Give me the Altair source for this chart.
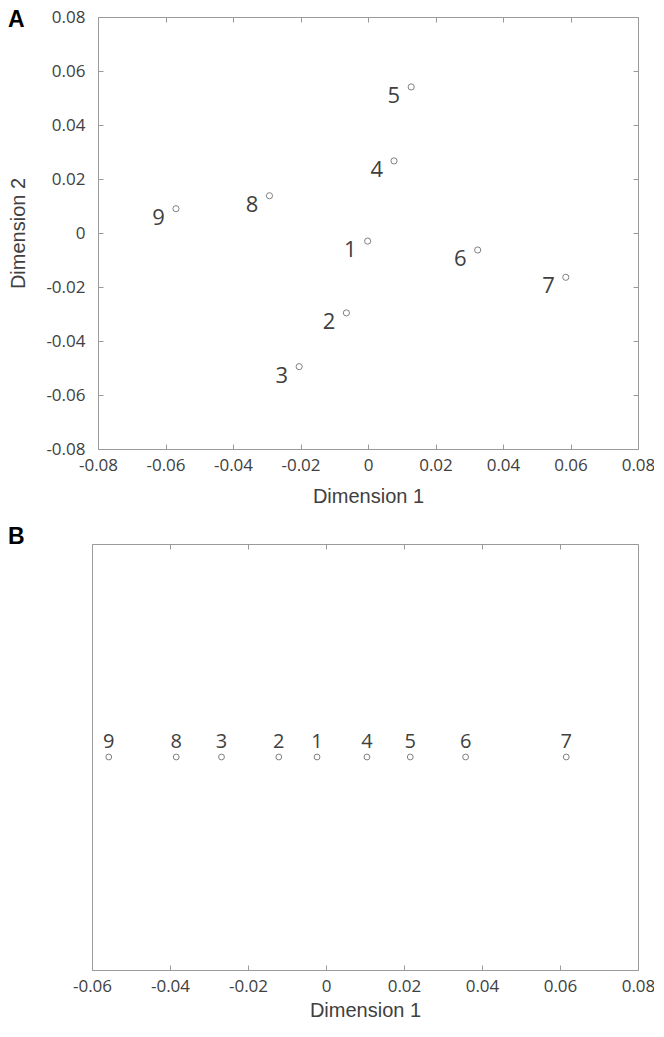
import altair as alt
import pandas as pd

# ---------------- data ----------------
ids = ["1", "2", "3", "4", "5", "6", "7", "8", "9"]

# Panel A: two-dimensional solution
dim1_a = [-0.0001, -0.0064, -0.0204, 0.0077, 0.0128, 0.0325, 0.0586, -0.0292, -0.0569]
dim2_a = [-0.0030, -0.0296, -0.0495, 0.0267, 0.0541, -0.0063, -0.0164, 0.0138, 0.0090]

# Panel B: one-dimensional solution (all points on the zero line)
dim1_b = [-0.0023, -0.0121, -0.0268, 0.0105, 0.0216, 0.0358, 0.0616, -0.0384, -0.0557]
dim2_b = [0, 0, 0, 0, 0, 0, 0, 0, 0]

ticks_a = [-0.08, -0.06, -0.04, -0.02, 0.0, 0.02, 0.04, 0.06, 0.08]
ticks_b = [-0.06, -0.04, -0.02, 0.0, 0.02, 0.04, 0.06, 0.08]
domain_a = [-0.08, 0.08]
domain_b = [-0.06, 0.08]
domain_b_y = [-1, 1]

panel_a = ["A"]
panel_b = ["B"]

df_a = pd.DataFrame({"id": ids, "d1": dim1_a, "d2": dim2_a})
df_b = pd.DataFrame({"id": ids, "d1": dim1_b, "d2": dim2_b})

# ---------------- styles ----------------
TXT = "#404040"
GRAY = "#9a9a9a"
PT = "#808080"
IN_TICK = {"expr": "-5"}          # ticks pointing into the plot
LABEL_EXPR = ("datum.value < -0.000001 ? '-' + format(-datum.value, '.2~f') "
              ": format(abs(datum.value), '.2~f')")

COMMON = dict(domain=True, domainColor=GRAY, domainWidth=1, grid=False,
              tickColor=GRAY, tickWidth=1, minExtent=0)

W = 546          # width of panel B's box (panel A's box starts 6 px further right)


def bottom_axis(values, title_pad):
    return alt.Axis(orient="bottom", values=values, tickSize=IN_TICK,
                    labelPadding=13, labelFont="Open Sans", labelFontSize=17,
                    labelColor=TXT, labelFlush=False, labelOverlap=False,
                    labelExpr=LABEL_EXPR, title="Dimension 1",
                    titleFont="Liberation Sans", titleFontSize=20,
                    titleFontWeight="normal", titleColor=TXT,
                    titlePadding=title_pad, **COMMON)


def top_axis(values):
    return alt.Axis(orient="top", values=values, tickSize=IN_TICK,
                    labels=False, title=None, **COMMON)


left_axis_a = alt.Axis(orient="left", values=ticks_a, tickSize=IN_TICK, offset=-6,
                       labelPadding=18, labelFont="Open Sans", labelFontSize=17,
                       labelColor=TXT, labelFlush=False, labelOverlap=False,
                       labelExpr=LABEL_EXPR, title="Dimension 2",
                       titleFont="Liberation Sans", titleFontSize=20,
                       titleFontWeight="normal", titleColor=TXT,
                       titleAngle=270, titleBaseline="bottom", titleX=-70,
                       **COMMON)

right_axis_a = alt.Axis(orient="right", values=ticks_a, tickSize=IN_TICK,
                        labels=False, title=None, **COMMON)

left_axis_b = alt.Axis(orient="left", ticks=False, labels=False, title=None, **COMMON)
right_axis_b = alt.Axis(orient="right", ticks=False, labels=False, title=None, **COMMON)

sx_a = alt.Scale(domain=domain_a, range=[6, W], nice=False, zero=False)
sy_a = alt.Scale(domain=domain_a, nice=False, zero=False)
sx_b = alt.Scale(domain=domain_b, nice=False, zero=False)
sy_b = alt.Scale(domain=domain_b_y, nice=False, zero=False)

# ---------------- panel A ----------------
pts_a = alt.Chart(df_a).mark_point(
    shape="circle", filled=False, size=38, strokeWidth=1, color=PT, opacity=1
).encode(
    x=alt.X("d1:Q", scale=sx_a, axis=bottom_axis(ticks_a, 13)),
    y=alt.Y("d2:Q", scale=sy_a, axis=left_axis_a),
)

lab_a = alt.Chart(df_a).mark_text(
    align="right", baseline="alphabetic", dx=-11, dy=16,
    font="Open Sans", fontSize=22, color=TXT
).encode(
    x=alt.X("d1:Q", scale=sx_a, axis=None),
    y=alt.Y("d2:Q", scale=sy_a, axis=None),
    text="id:N",
)

frame_a = alt.Chart(df_a).mark_point(opacity=0).encode(
    x=alt.X("d1:Q", scale=sx_a, axis=top_axis(ticks_a)),
    y=alt.Y("d2:Q", scale=sy_a, axis=right_axis_a),
)

letter_a = alt.Chart(pd.DataFrame({"panel": panel_a})).mark_text(
    align="left", baseline="top", font="Liberation Sans", fontSize=23,
    fontWeight="bold", color="#000000"
).encode(text="panel:N", x=alt.value(-84), y=alt.value(-8))

chart_a = alt.layer(pts_a, lab_a, frame_a, letter_a).resolve_scale(
    x="independent", y="independent"
).properties(width=W, height=432)

# ---------------- panel B ----------------
pts_b = alt.Chart(df_b).mark_point(
    shape="circle", filled=False, size=34, strokeWidth=1, color=PT, opacity=1
).encode(
    x=alt.X("d1:Q", scale=sx_b, axis=bottom_axis(ticks_b, 6)),
    y=alt.Y("d2:Q", scale=sy_b, axis=left_axis_b),
)

lab_b = alt.Chart(df_b).mark_text(
    align="center", baseline="alphabetic", dy=-9,
    font="Open Sans", fontSize=20, color=TXT
).encode(
    x=alt.X("d1:Q", scale=sx_b, axis=None),
    y=alt.Y("d2:Q", scale=sy_b, axis=None),
    text="id:N",
)

frame_b = alt.Chart(df_b).mark_point(opacity=0).encode(
    x=alt.X("d1:Q", scale=sx_b, axis=top_axis(ticks_b)),
    y=alt.Y("d2:Q", scale=sy_b, axis=right_axis_b),
)

letter_b = alt.Chart(pd.DataFrame({"panel": panel_b})).mark_text(
    align="left", baseline="top", font="Liberation Sans", fontSize=23,
    fontWeight="bold", color="#000000"
).encode(text="panel:N", x=alt.value(-84), y=alt.value(-17.7))

chart_b = alt.layer(pts_b, lab_b, frame_b, letter_b).resolve_scale(
    x="independent", y="independent"
).properties(width=W, height=426)

chart = alt.concat(
    chart_a, chart_b, columns=1, spacing=20, align="none", bounds="full"
).properties(
    padding={"left": 0, "top": 0, "right": -1, "bottom": -1}
).configure_view(
    strokeWidth=0
)

chart.save("out.html", embed_options={"renderer": "svg", "actions": False})
